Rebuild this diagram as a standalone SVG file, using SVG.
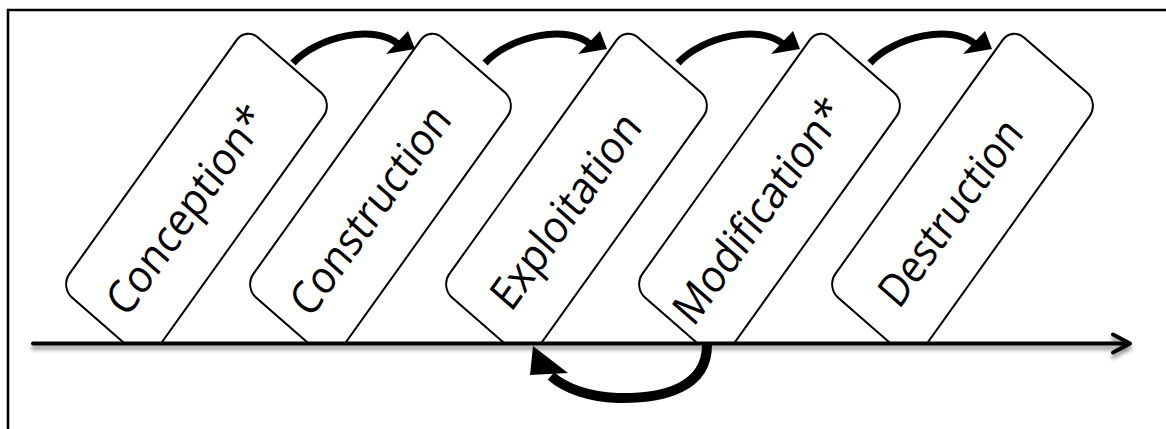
<svg xmlns="http://www.w3.org/2000/svg" xmlns:xlink="http://www.w3.org/1999/xlink" width="1166" height="429" viewBox="0 0 1166 429">
<style>
.frame{fill:none;stroke:#000;stroke-width:2.6}
.box{fill:#fff;stroke:#000;stroke-width:2}
.lbl{font-family:"Open Sans","Liberation Sans",sans-serif;font-size:44px;fill:#000;text-anchor:middle}
.axis{fill:none;stroke:#000;stroke-width:4;stroke-linecap:round;stroke-linejoin:round}
.shaft{fill:none;stroke:#000;stroke-width:7}
.head{fill:#000}
</style>
<defs>
<clipPath id="above" clipPathUnits="userSpaceOnUse"><rect x="0" y="0" width="1166" height="342"/></clipPath>
<filter id="shadow" x="-5%" y="-100%" width="110%" height="400%">
<feGaussianBlur in="SourceAlpha" stdDeviation="2.2"/>
<feOffset dx="0" dy="4" result="b"/>
<feComponentTransfer in="b" result="s"><feFuncA type="linear" slope="0.45"/></feComponentTransfer>
<feMerge><feMergeNode in="s"/><feMergeNode in="SourceGraphic"/></feMerge>
</filter>
<g id="toparrow">
<path class="shaft" d="M293,63 C318,36 375,24 398,44"/>
<polygon class="head" points="408,31 386,54 415,49"/>
</g>
</defs>
<path class="frame" d="M8,429 L8,10 L1166,10"/>
<g id="n-conception" clip-path="url(#above)">
<g transform="matrix(0.58125,-0.8125,0.7565,0.6609,60,287)">
<rect class="box" x="0" y="0" width="320" height="115" rx="16"/>
<text class="lbl" x="142" y="73" textLength="244" lengthAdjust="spacingAndGlyphs">Conception*</text>
</g>
</g>
<g id="n-construction" clip-path="url(#above)">
<g transform="translate(184,0) matrix(0.58125,-0.8125,0.7565,0.6609,60,287)">
<rect class="box" x="0" y="0" width="320" height="115" rx="16"/>
<text class="lbl" x="142" y="73" textLength="245" lengthAdjust="spacingAndGlyphs">Construction</text>
</g>
</g>
<g id="n-exploitation" clip-path="url(#above)">
<g transform="translate(380,0) matrix(0.58125,-0.8125,0.7565,0.6609,60,287)">
<rect class="box" x="0" y="0" width="320" height="115" rx="16"/>
<text class="lbl" x="141" y="73" textLength="228" lengthAdjust="spacingAndGlyphs">Exploitation</text>
</g>
</g>
<g id="n-modification" clip-path="url(#above)">
<g transform="translate(573,0) matrix(0.58125,-0.8125,0.7565,0.6609,60,287)">
<rect class="box" x="0" y="0" width="320" height="115" rx="16"/>
<text class="lbl" x="141" y="73" textLength="264" lengthAdjust="spacingAndGlyphs">Modification*</text>
</g>
</g>
<g id="n-destruction" clip-path="url(#above)">
<g transform="translate(766,0) matrix(0.58125,-0.8125,0.7565,0.6609,60,287)">
<rect class="box" x="0" y="0" width="320" height="115" rx="16"/>
<text class="lbl" x="139" y="73" textLength="217" lengthAdjust="spacingAndGlyphs">Destruction</text>
</g>
</g>
<g id="connectors">
<g id="timeline" filter="url(#shadow)">
<line class="axis" x1="33" y1="343.5" x2="1128" y2="343.5"/>
<polyline class="axis" points="1113,334.5 1130,343.5 1113,352.5"/>
</g>
<use xlink:href="#toparrow"/>
<use xlink:href="#toparrow" x="192"/>
<use xlink:href="#toparrow" x="385"/>
<use xlink:href="#toparrow" x="577"/>
<g id="loop">
<path fill="none" stroke="#000" stroke-width="10" d="M707,345 C707,387 665,399 617,398 C590,397 566,389 551,376"/>
<polygon class="head" points="533,346 530,375 568,373"/>
</g>
</g>
</svg>
